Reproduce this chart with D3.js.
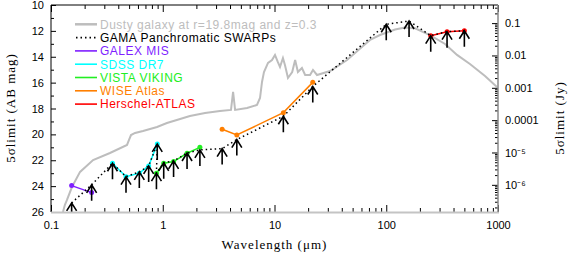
<!DOCTYPE html>
<meta charset="utf-8" />
<title>Survey depths</title>
<script src="https://d3js.org/d3.v7.min.js"></script>

<style>
  body {
    margin: 0;
    padding: 0;
    background: #fff;
  }

  .tick text {
    font-family: "Liberation Sans", Arial, sans-serif;
    font-size: 11px;
    fill: #000;
  }

  .tick line {
    stroke: #000;
  }

  .legend text {
    font-family: "Liberation Sans", Arial, sans-serif;
    font-size: 12px;
    letter-spacing: 0.5px;
  }

  .title {
    font-family: "Liberation Serif", serif;
    font-size: 13px;
    letter-spacing: 1px;
  }
</style>

<body>
  <div id="chart"></div>
</body>

<script>
  // dusty galaxy template (r=19.8, z=0.3): wavelength in micron, AB mag
  const sedWave = [0.128, 0.133, 0.139, 0.154, 0.182, 0.238, 0.337, 0.479, 0.499, 0.520, 0.565, 0.666, 0.889,
    1.09, 1.43, 1.75, 2.39, 3.25, 4.08, 4.26, 4.44, 5.68, 6.97, 7.42, 7.73, 8.05, 8.75, 9.50, 10.1, 10.7, 11.2,
    11.9, 12.4, 13.2, 14.4, 15.3, 16.2, 17.6, 18.8, 20.8, 22.1, 24.0, 31.4, 44.6, 62.0, 71.6, 87.9, 120, 147,
    181, 246, 336, 430, 561, 765, 979];
  const sedMag = [26.0, 25.46, 25.07, 24.07, 22.9, 21.98, 21.44, 20.82, 20.43, 20.05, 19.89, 19.74, 19.43,
    19.12, 18.81, 18.58, 18.35, 18.19, 18.11, 16.72, 18.11, 17.96, 17.73, 17.19, 15.95, 15.18, 14.48, 14.25,
    13.86, 14.40, 14.79, 14.10, 14.64, 15.64, 15.18, 14.25, 15.18, 14.87, 15.41, 15.41, 15.02, 15.41, 15.10,
    14.25, 13.17, 12.70, 12.32, 11.89, 11.74, 11.80, 12.32, 13.01, 13.86, 14.56, 15.49, 16.34];

  // GAMA panchromatic SWARPs limits
  const gamaBands = ["FUV", "NUV", "u", "g", "r", "i", "z", "Z", "Y", "J", "H", "K",
    "W1", "W2", "W3", "W4", "100", "160", "250", "350", "500"];
  const gamaWave = [0.153, 0.231, 0.355, 0.469, 0.617, 0.748, 0.893, 0.878, 1.02, 1.25, 1.65, 2.15,
    3.4, 4.6, 12, 22, 100, 160, 250, 350, 500];
  const gamaMag = [25.3, 23.9, 22.23, 23.27, 22.9, 22.44, 20.74, 23.0, 22.2, 22.05, 21.44, 21.2,
    21.1, 20.4, 18.6, 16.3, 11.49, 11.24, 12.37, 12.06, 11.99];

  // individual surveys
  const galexWave = [0.153, 0.231];
  const galexMag = [23.96, 24.5];
  const sdssWave = [0.355, 0.469, 0.617, 0.748, 0.893];
  const sdssMag = [22.23, 23.27, 23.0, 22.44, 20.74];
  const vistaWave = [0.878, 1.02, 1.25, 1.65, 2.15];
  const vistaMag = [23.0, 22.23, 22.1, 21.46, 21.0];
  const wiseWave = [3.4, 4.6, 12, 22];
  const wiseMag = [19.6, 20.05, 18.32, 15.98];
  const hatlasWave = [250, 350, 500];
  const hatlasMag = [12.37, 12.06, 11.99];

  const xMajor = [0.1, 1, 10, 100, 1000];
  const xLabels = ["0.1", "1", "10", "100", "1000"];
  const yMajor = [10, 12, 14, 16, 18, 20, 22, 24, 26];
  const jyMajor = [0.1, 0.01, 0.001, 0.0001, 1e-5, 1e-6];
  const jyLabels = ["0.1", "0.01", "0.001", "0.0001", "10\u207B\u2075", "10\u207B\u2076"];

  const legendNames = ["Dusty galaxy at r=19.8mag and z=0.3", "GAMA Panchromatic SWARPs", "GALEX MIS",
    "SDSS DR7", "VISTA VIKING", "WISE Atlas", "Herschel-ATLAS"];
  const legendColors = ["#bdbdbd", "#000", "#7f1fff", "#00ffff", "#22ee22", "#ff7f00", "#ff0000"];

  const W = 568, H = 253;
  const pLeft = 51, pRight = 498, pTop = 5, pBottom = 212;

  const x = d3.scaleLog().domain([0.1, 1000]).range([pLeft, pRight]);
  const y = d3.scaleLinear().domain([10, 26]).range([pTop, pBottom]);
  const yJy = d3.scaleLog()
    .domain([3631 * Math.pow(10, -4), 3631 * Math.pow(10, -10.4)])
    .range([pTop, pBottom]);

  const svg = d3.select("#chart").append("svg")
    .attr("width", W)
    .attr("height", H);

  svg.append("clipPath").attr("id", "plot")
    .append("rect")
    .attr("x", pLeft).attr("y", pTop)
    .attr("width", pRight - pLeft).attr("height", pBottom - pTop);

  const zip = (w, m) => w.map((d, i) => [d, m[i]]);
  const line = d3.line()
    .x(d => x(d[0]))
    .y(d => y(d[1]));

  const plot = svg.append("g").attr("clip-path", "url(#plot)");

  // SED
  plot.append("path")
    .datum(zip(sedWave, sedMag))
    .attr("d", line)
    .attr("fill", "none")
    .attr("stroke", "#bdbdbd")
    .attr("stroke-width", 2);

  // surveys
  const surveys = [
    [galexWave, galexMag, legendColors[2]],
    [sdssWave, sdssMag, legendColors[3]],
    [vistaWave, vistaMag, legendColors[4]],
    [wiseWave, wiseMag, legendColors[5]],
    [hatlasWave, hatlasMag, legendColors[6]]
  ];
  surveys.forEach(function (s) {
    const pts = zip(s[0], s[1]);
    plot.append("path")
      .datum(pts)
      .attr("d", line)
      .attr("fill", "none")
      .attr("stroke", s[2])
      .attr("stroke-width", 1.5);
    plot.selectAll(null)
      .data(pts)
      .enter()
      .append("circle")
      .attr("cx", d => x(d[0]))
      .attr("cy", d => y(d[1]))
      .attr("r", 2.5)
      .attr("fill", s[2]);
  });

  // GAMA dotted line
  const gama = zip(gamaWave, gamaMag);
  plot.append("path")
    .datum(gama)
    .attr("d", line)
    .attr("fill", "none")
    .attr("stroke", "#000")
    .attr("stroke-width", 1.5)
    .attr("stroke-dasharray", "1.5,3");

  // upper-limit arrows
  plot.selectAll(".arrow")
    .data(gama)
    .enter()
    .append("path")
    .attr("class", "arrow")
    .attr("d", function (d) {
      const ax = x(d[0]), ay = y(d[1]);
      return "M" + ax + "," + ay + "V" + (ay + 16) +
        "M" + (ax - 5) + "," + (ay + 8) + "L" + ax + "," + ay + "L" + (ax + 5) + "," + (ay + 8);
    })
    .attr("fill", "none")
    .attr("stroke", "#000")
    .attr("stroke-width", 1.6);

  // axes
  const xMinor = [];
  [0.1, 1, 10, 100].forEach(function (dec) {
    for (let k = 2; k <= 9; k++) xMinor.push(dec * k);
  });
  const jyMinor = [];
  [1e-7, 1e-6, 1e-5, 1e-4, 1e-3, 1e-2, 0.1].forEach(function (dec) {
    for (let k = 2; k <= 9; k++) {
      const v = dec * k;
      if (v < yJy.domain()[0] && v > yJy.domain()[1]) jyMinor.push(v);
    }
  });
  const yMinor = [11, 13, 15, 17, 19, 21, 23, 25];

  function noDomain(g) { g.select(".domain").remove(); }

  svg.append("g")
    .attr("transform", "translate(0," + pBottom + ")")
    .call(d3.axisBottom(x).tickValues(xMajor).tickFormat((d, i) => xLabels[i])
      .tickSizeInner(-7).tickSizeOuter(0).tickPadding(9))
    .call(noDomain);
  svg.append("g")
    .attr("transform", "translate(0," + pBottom + ")")
    .call(d3.axisBottom(x).tickValues(xMinor).tickFormat("").tickSizeInner(-4).tickSizeOuter(0))
    .call(noDomain);
  svg.append("g")
    .attr("transform", "translate(0," + pTop + ")")
    .call(d3.axisTop(x).tickValues(xMajor).tickFormat("").tickSizeInner(-7).tickSizeOuter(0))
    .call(noDomain);
  svg.append("g")
    .attr("transform", "translate(0," + pTop + ")")
    .call(d3.axisTop(x).tickValues(xMinor).tickFormat("").tickSizeInner(-4).tickSizeOuter(0))
    .call(noDomain);

  svg.append("g")
    .attr("transform", "translate(" + pLeft + ",0)")
    .call(d3.axisLeft(y).tickValues(yMajor).tickFormat(d3.format("d"))
      .tickSizeInner(-5).tickSizeOuter(0).tickPadding(7))
    .call(noDomain);
  svg.append("g")
    .attr("transform", "translate(" + pLeft + ",0)")
    .call(d3.axisLeft(y).tickValues(yMinor).tickFormat("").tickSizeInner(-3).tickSizeOuter(0))
    .call(noDomain);

  svg.append("g")
    .attr("transform", "translate(" + pRight + ",0)")
    .call(d3.axisRight(yJy).tickValues(jyMajor).tickFormat((d, i) => jyLabels[i])
      .tickSizeInner(-6).tickSizeOuter(0).tickPadding(7))
    .call(noDomain);
  svg.append("g")
    .attr("transform", "translate(" + pRight + ",0)")
    .call(d3.axisRight(yJy).tickValues(jyMinor).tickFormat("").tickSizeInner(-3).tickSizeOuter(0))
    .call(noDomain);

  // frame
  svg.append("line").attr("x1", pLeft).attr("x2", pRight).attr("y1", pTop).attr("y2", pTop)
    .attr("stroke", "#000");
  svg.append("line").attr("x1", pLeft).attr("x2", pLeft).attr("y1", pTop).attr("y2", pBottom)
    .attr("stroke", "#000");
  svg.append("line").attr("x1", pLeft).attr("x2", pRight + 1).attr("y1", pBottom + 0.5).attr("y2", pBottom + 0.5)
    .attr("stroke", "#c4c4c4").attr("stroke-width", 2);
  svg.append("line").attr("x1", pRight).attr("x2", pRight).attr("y1", pTop).attr("y2", pBottom)
    .attr("stroke", "#8a8a8a").attr("stroke-width", 1.5);

  // titles
  svg.append("text").attr("class", "title")
    .attr("x", (pLeft + pRight) / 2).attr("y", 249)
    .attr("text-anchor", "middle")
    .text("Wavelength (\u03BCm)");
  svg.append("text").attr("class", "title")
    .attr("transform", "translate(15,108) rotate(-90)")
    .attr("text-anchor", "middle")
    .text("5\u03C3limit (AB mag)");
  svg.append("text").attr("class", "title")
    .attr("transform", "translate(564,118) rotate(-90)")
    .attr("text-anchor", "middle")
    .text("5\u03C3limit (Jy)");

  // legend
  const legend = svg.append("g").attr("class", "legend");
  legendNames.forEach(function (name, i) {
    const ly = 24.3 + i * 13.3;
    const l = legend.append("line")
      .attr("x1", 75).attr("x2", 97)
      .attr("y1", ly).attr("y2", ly)
      .attr("stroke", legendColors[i])
      .attr("stroke-width", i === 0 ? 2.5 : 1.6);
    if (i === 1) l.attr("stroke-dasharray", "1.5,3").attr("x1", 76);
    legend.append("text")
      .attr("x", 100).attr("y", ly + 4.3)
      .attr("fill", legendColors[i])
      .text(name);
  });
</script>
